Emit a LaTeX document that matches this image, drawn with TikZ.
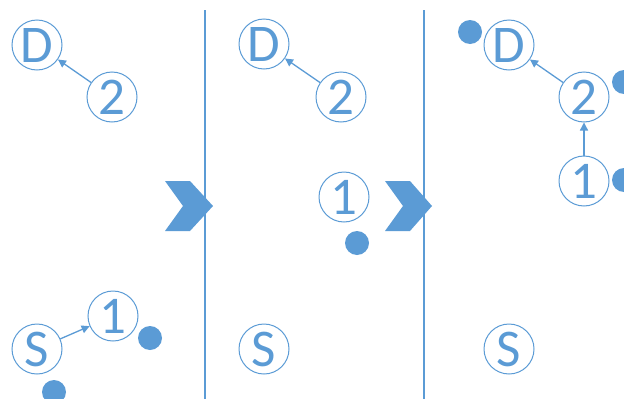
\documentclass[tikz,border=0pt]{standalone}
\usepackage{fontspec}
\setmainfont{Carlito}
\usepackage{xcolor}
\usepackage{tikz}
\usetikzlibrary{arrows.meta}
\definecolor{netblue}{HTML}{5B9BD5}

\begin{document}
\begin{tikzpicture}[x=1pt,y=-1pt,
        station/.style={circle,draw=netblue,line width=1pt,minimum size=50pt,inner sep=0pt,
          text=netblue,font=\fontsize{53}{53}\selectfont},
        packet/.style={circle,fill=netblue,minimum size=24pt,inner sep=0pt},
        hop/.style={draw=netblue,line width=1.3pt,-{Triangle[length=8pt,width=8pt]}},
        divider/.style={draw=netblue,line width=1.3pt}]
        \useasboundingbox (0,0) rectangle (624,399);

        % first step
        \node at (37,45) [station] (d1) {D};
        \node at (112,97) [station] (t1) {2};
        \node at (113,316) [station] (o1) {1};
        \node at (37,349) [station] (s1) {S};
        \node at (150,338) [packet] (p1a) {};
        \node at (54,392) [packet] (p1b) {};
        \draw[hop] (t1) -- (d1);
        \draw[hop] (s1) -- (o1);

        \coordinate (l1top) at (205,10);
        \coordinate (l1bot) at (205,399);
        \draw[divider] (l1top) -- (l1bot);
        \fill[netblue] (165,181) -- (190,181) -- (213,206) -- (190,231) -- (165,231) -- (183,206) -- cycle;

        % second step
        \node at (264,44) [station] (d2) {D};
        \node at (341,97) [station] (t2) {2};
        \node at (344,197) [station] (o2) {1};
        \node at (264,349) [station] (s2) {S};
        \node at (357,243) [packet] (p2) {};
        \draw[hop] (t2) -- (d2);

        \coordinate (l2top) at (424,10);
        \coordinate (l2bot) at (424,399);
        \draw[divider] (l2top) -- (l2bot);
        \fill[netblue] (385,181) -- (410,181) -- (432,206) -- (410,231) -- (385,231) -- (403,206) -- cycle;

        % third step
        \node at (509,45) [station] (d3) {D};
        \node at (584,97) [station] (t3) {2};
        \node at (584,181) [station] (o3) {1};
        \node at (509,349) [station] (s3) {S};
        \node at (470,32) [packet] (p3a) {};
        \node at (624,82) [packet] (p3b) {};
        \node at (624,180) [packet] (p3c) {};
        \draw[hop] (t3) -- (d3);
        \draw[hop] (o3) -- (t3);
\end{tikzpicture}
\end{document}
